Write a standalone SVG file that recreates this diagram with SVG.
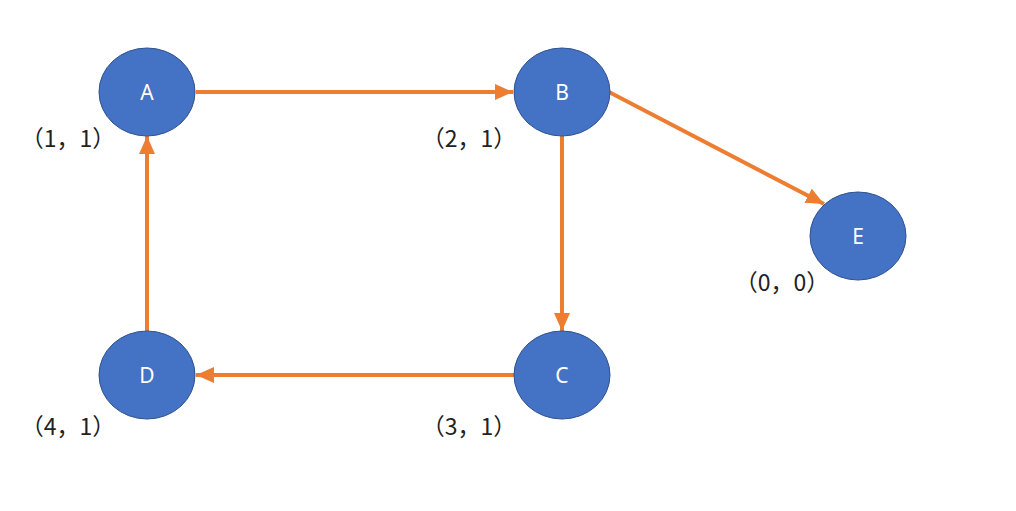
<svg xmlns="http://www.w3.org/2000/svg" width="1016" height="511" viewBox="0 0 1016 511">
<style>
.node ellipse{fill:#4472C4;stroke:#2F528F;stroke-width:1}
.node text{fill:#fff;font-family:"Noto Sans","DejaVu Sans",sans-serif;font-size:21px;text-anchor:middle;dominant-baseline:central}
.lbl{fill:#222;font-family:"Noto Sans CJK SC",sans-serif;font-size:23px;text-anchor:middle;dominant-baseline:central}
.edge{stroke:#ED7D31;stroke-width:4;fill:none;marker-end:url(#ah)}
</style>
<defs>
<marker id="ah" viewBox="0 0 10 10" refX="10" refY="5" markerWidth="4.5" markerHeight="4" orient="auto" markerUnits="strokeWidth" preserveAspectRatio="none">
<path d="M0,0 L10,5 L0,10 z" fill="#ED7D31"/>
</marker>
</defs>
<rect width="1016" height="511" fill="#fff"/>
<g id="connectors">
<line class="edge" x1="196" y1="92" x2="513" y2="92"/>
<line class="edge" x1="562" y1="136" x2="562" y2="331"/>
<line class="edge" x1="514" y1="375" x2="196" y2="375"/>
<line class="edge" x1="147" y1="331" x2="147" y2="136"/>
<line class="edge" x1="609" y1="92" x2="824" y2="204"/>
</g>
<g id="A" class="node"><ellipse cx="147" cy="92" rx="48" ry="44"/><text x="147" y="92">A</text></g>
<g id="B" class="node"><ellipse cx="562" cy="92" rx="48" ry="44"/><text x="562" y="92">B</text></g>
<g id="C" class="node"><ellipse cx="562" cy="375" rx="48" ry="44"/><text x="562" y="375">C</text></g>
<g id="D" class="node"><ellipse cx="147" cy="375" rx="48" ry="44"/><text x="147" y="375">D</text></g>
<g id="E" class="node"><ellipse cx="858" cy="236" rx="48" ry="44"/><text x="858" y="236">E</text></g>
<g id="labels">
<text class="lbl" x="68" y="137">（1，1）</text>
<text class="lbl" x="469" y="137">（2，1）</text>
<text class="lbl" x="782" y="281">（0，0）</text>
<text class="lbl" x="68" y="425">（4，1）</text>
<text class="lbl" x="469" y="425">（3，1）</text>
</g>
</svg>
